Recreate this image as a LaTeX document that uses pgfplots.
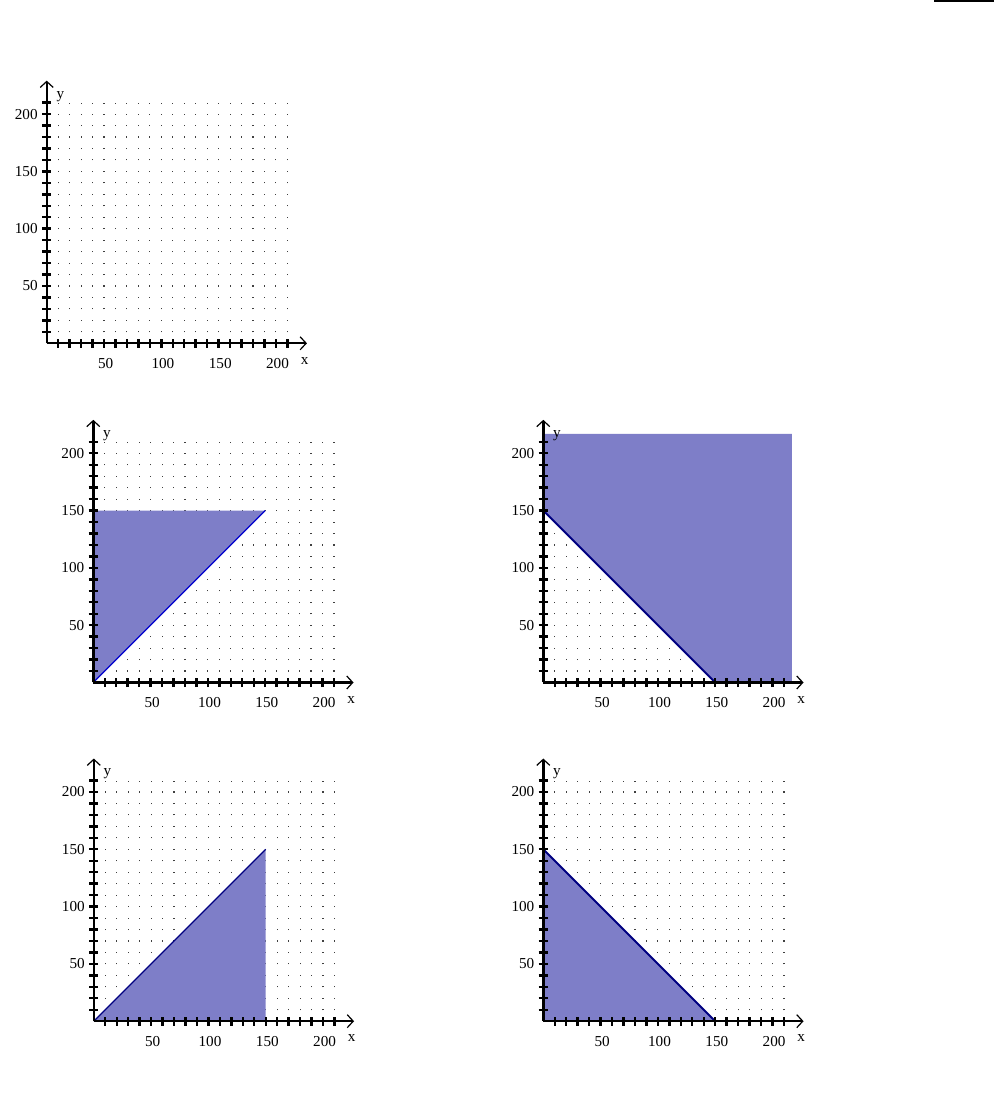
\documentclass[border=0pt]{standalone}
\usepackage{fontspec}
\setmainfont{Liberation Serif}
\usepackage{pgfplots}
\pgfplotsset{compat=1.18}
\usetikzlibrary{arrows.meta}
\definecolor{fillc}{RGB}{126,126,200}
\definecolor{navyc}{RGB}{0,0,128}
\definecolor{bluec}{RGB}{0,0,205}
\newcommand{\lblfont}{\fontsize{7.6}{9}\selectfont}
\pgfplotsset{
  layers/gridbelow/.define layer set={axis background,axis grid,main,axis ticks,axis lines,axis tick labels,axis descriptions,axis foreground}{/pgfplots/layers/standard},
  lp/.style={
    set layers=gridbelow,
    x=0.573pt, y=0.573pt,
    anchor=origin,
    axis lines=middle,
    xmin=0, xmax=210, ymin=0, ymax=210,
    clip=false,
    xtick={10,20,...,210}, ytick={10,20,...,210},
    xticklabels={,,,,50,,,,,100,,,,,150,,,,,200,},
    yticklabels={,,,,50,,,,,100,,,,,150,,,,,200,},
    major tick length=4.6pt, tick align=center,
    tick style={black, line width=1.2pt},
    axis line style={line width=1.2pt, black},
    x axis line style={-{Straight Barb[length=3pt,width=6.5pt,line width=0.6pt]}, shorten >=-9.8pt},
    y axis line style={-{Straight Barb[length=3pt,width=6.5pt,line width=0.6pt]}, shorten >=-11pt},
    xmajorgrids=true, ymajorgrids=false,
    major grid style={black!75, line width=0.55pt, dash pattern=on 0.55pt off 5.18pt, dash phase=0.275pt},
    tick label style={font=\lblfont, inner sep=0pt, text=black},
    xticklabel style={anchor=base, yshift=-10.4pt, xshift=0.8pt},
    yticklabel style={anchor=east, xshift=-2pt},
    xlabel={x}, ylabel={y},
    every axis x label/.style={at={(axis cs:225,0)}, anchor=base, yshift=-10.4pt, inner sep=0pt, font=\lblfont},
    every axis y label/.style={at={(axis cs:0,214)}, anchor=base west, xshift=4.75pt, inner sep=0pt, font=\lblfont},
  }
}
\begin{document}
\begin{tikzpicture}
\path (0,0) rectangle (497pt,551pt);
\fill[black] (467pt,550pt) rectangle (497pt,551pt);

% Plot 1: empty grid
\begin{axis}[lp, at={(23.35pt,379.35pt)}]
\addplot[draw=none, forget plot] coordinates {(0,0) (210,210)};
\end{axis}

% Plot 2
\begin{axis}[lp, at={(46.65pt,209.75pt)}]
\addplot[fill=fillc, draw=none] coordinates {(0,0) (0,150) (150,150)} -- cycle;
\addplot[bluec, line width=0.6pt] coordinates {(0,0) (150,150)};
\end{axis}

% Plot 3
\begin{axis}[lp, at={(271.65pt,209.75pt)}]
\addplot[fill=fillc, draw=none] coordinates {(0,150) (0,217) (217,217) (217,0) (150,0)} -- cycle;
\addplot[navyc, line width=1pt] coordinates {(0,150) (150,0)};
\end{axis}

% Plot 4
\begin{axis}[lp, at={(46.9pt,40.4pt)}]
\addplot[fill=fillc, draw=none] coordinates {(0,0) (150,150) (150,0)} -- cycle;
\addplot[navyc, line width=0.6pt] coordinates {(0,0) (150,150)};
\end{axis}

% Plot 5
\begin{axis}[lp, at={(271.65pt,40.4pt)}]
\addplot[fill=fillc, draw=none] coordinates {(0,0) (0,150) (150,0)} -- cycle;
\addplot[navyc, line width=0.9pt] coordinates {(0,150) (150,0)};
\end{axis}
\end{tikzpicture}
\end{document}
